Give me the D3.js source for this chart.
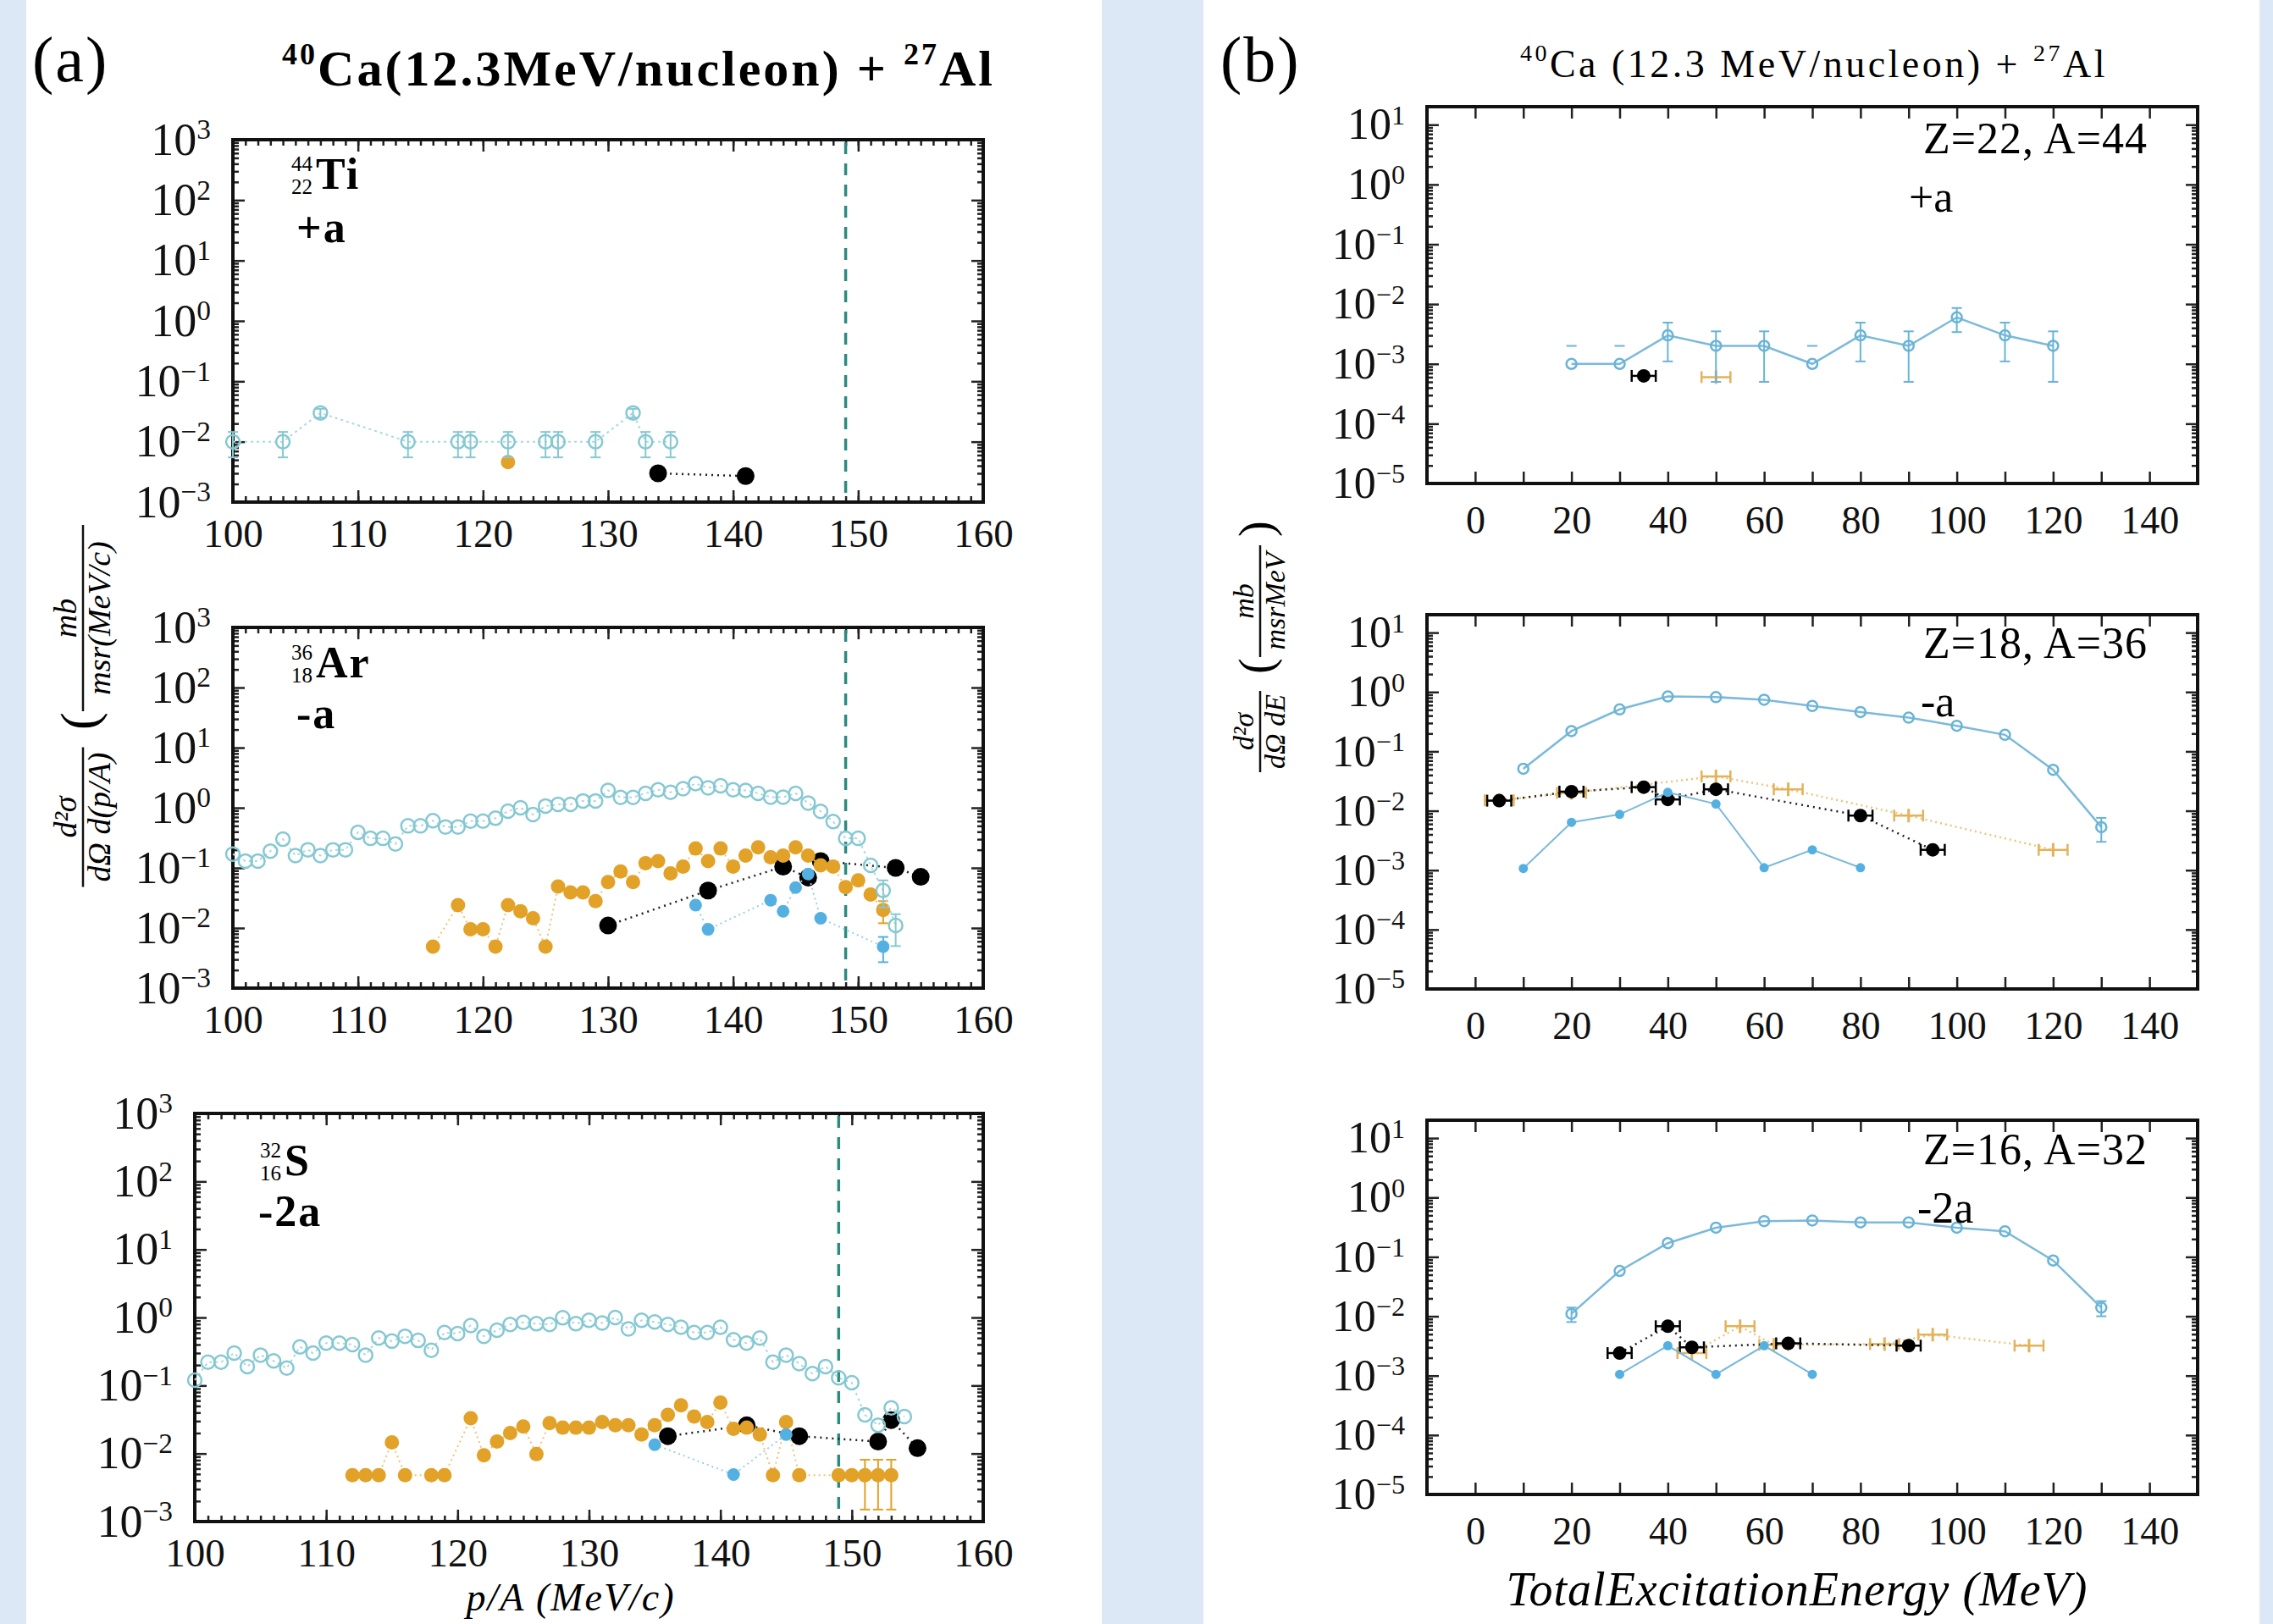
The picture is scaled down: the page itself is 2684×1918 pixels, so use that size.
<!DOCTYPE html>
<html lang="en">
<head>
<meta charset="UTF-8">
<title>40Ca + 27Al fragment spectra</title>
<script src="https://d3js.org/d3.v7.min.js"></script>
<style>
  body { margin: 0; background: #dce8f5; }
  text { font-family: "Liberation Serif", "DejaVu Serif", serif; }
</style>
</head>
<body>
<svg width="2684" height="1918"></svg>
<script>
// ---------- (a) p/A spectra : [p/A, value, yerr] ----------
const tiModel = [[100,0.01,0.0045],[104,0.01,0.0045],[107,0.03,0.005],[114,0.01,0.0045],[118,0.01,0.0045],
  [119,0.01,0.0045],[122,0.01,0.0045],[125,0.01,0.0045],[126,0.01,0.0045],[129,0.01,0.0045],
  [132,0.03,0.005],[133,0.01,0.0045],[135,0.01,0.0045]];
const tiOrange = [[122,0.0046]];
const tiBlue = [];
const tiBlack = [[134,0.003],[141,0.0027]];

const arModel = [[100,0.17],[101,0.13],[102,0.13],[103,0.19],[104,0.30],[105,0.16],[106,0.20],[107,0.16],
  [108,0.20],[109,0.20],[110,0.39],[111,0.31],[112,0.31],[113,0.25],[114,0.50],[115,0.50],[116,0.61],
  [117,0.48],[118,0.48],[119,0.60],[120,0.60],[121,0.67],[122,0.88],[123,1.0],[124,0.77],[125,1.07],
  [126,1.14],[127,1.14],[128,1.3],[129,1.3],[130,1.94],[131,1.49],[132,1.49],[133,1.74],[134,1.99],
  [135,1.81],[136,2.07],[137,2.52],[138,2.15],[139,2.33],[140,1.99],[141,1.94],[142,1.74],[143,1.5],
  [144,1.5],[145,1.74],[146,1.2],[147,0.87],[148,0.59],[149,0.31],[150,0.31],[151,0.11],
  [152,0.042,0.02],[153,0.011,0.006]];
const arOrange = [[116,0.0049],[118,0.024],[119,0.0095],[120,0.0095],[121,0.0049],[122,0.024],[123,0.019],
  [124,0.0145],[125,0.0049],[126,0.049],[127,0.039],[128,0.039],[129,0.028],[130,0.058],[131,0.087],
  [132,0.058],[133,0.12],[134,0.13],[135,0.081],[136,0.105],[137,0.21],[138,0.13],[139,0.21],[140,0.105],
  [141,0.16],[142,0.22],[143,0.15],[144,0.16],[145,0.22],[146,0.16],[147,0.11],[148,0.105],[149,0.048],
  [150,0.062],[151,0.036],[152,0.02,0.008]];
const arBlue = [[137,0.024],[138,0.0095],[143,0.029],[144,0.019],[145,0.047],[146,0.079],[147,0.0145],[152,0.0049,0.0022]];
const arBlack = [[130,0.011],[138,0.042],[144,0.105],[146,0.069],[147,0.13],[153,0.1],[155,0.071]];

const sModel = [[100,0.12],[101,0.22],[102,0.22],[103,0.3],[104,0.19],[105,0.28],[106,0.23],[107,0.18],
  [108,0.37],[109,0.3],[110,0.42],[111,0.42],[112,0.4],[113,0.28],[114,0.5],[115,0.45],[116,0.53],
  [117,0.46],[118,0.33],[119,0.6],[120,0.58],[121,0.76],[122,0.53],[123,0.65],[124,0.79],[125,0.85],
  [126,0.81],[127,0.79],[128,0.99],[129,0.81],[130,0.91],[131,0.83],[132,1.0],[133,0.68],[134,0.91],
  [135,0.86],[136,0.79],[137,0.72],[138,0.6],[139,0.6],[140,0.72],[141,0.47],[142,0.42],[143,0.5],
  [144,0.22],[145,0.28],[146,0.21],[147,0.15],[148,0.19],[149,0.13],[150,0.11],[151,0.037],
  [152,0.026],[153,0.047],[154,0.035]];
const sOrange = [[112,0.0048],[113,0.0048],[114,0.0048],[115,0.0146],[116,0.0048],[118,0.0048],[119,0.0048],
  [121,0.033],[122,0.0094],[123,0.015],[124,0.02],[125,0.025],[126,0.0098],[127,0.028],[128,0.024],
  [129,0.024],[130,0.024],[131,0.029],[132,0.026],[133,0.026],[134,0.019],[135,0.026],[136,0.037],
  [137,0.051],[138,0.035],[139,0.029],[140,0.056],[141,0.023],[142,0.024],[143,0.019],[144,0.0048],
  [145,0.029],[146,0.0048],[149,0.0048],[150,0.0048],[151,0.0048,0.0033],[152,0.0048,0.0033],[153,0.0048,0.0033]];
const sBlue = [[135,0.0135],[141,0.0049],[145,0.019]];
const sBlack = [[136,0.018],[142,0.026],[146,0.018],[152,0.015],[153,0.031],[155,0.012]];

// ---------- (b) excitation-energy spectra ----------
// model: [E, value, yerr]   black / orange: [E, value, xerr]
const b1Model = [[20,0.001,0.001],[30,0.001,0.001],[40,0.003,0.0019],[50,0.002,0.0015],[60,0.002,0.0015],
  [70,0.001,0.001],[80,0.003,0.0019],[90,0.002,0.0015],[100,0.006,0.0026],[110,0.003,0.0019],[120,0.002,0.0015]];
const b1Blue = [];
const b1Black = [[35,0.00063,2.5]];
const b1Orange = [[50,0.0006,3]];

const b2Model = [[10,0.051],[20,0.22],[30,0.51],[40,0.84],[50,0.82],[60,0.74],[70,0.58],[80,0.46],
  [90,0.37],[100,0.27],[110,0.19],[120,0.049],[130,0.0053,0.0023]];
const b2Blue = [[10,0.00107],[20,0.0064],[30,0.0087],[40,0.0204],[50,0.013],[60,0.0011],[70,0.0022],[80,0.0011]];
const b2Black = [[5,0.0148,2.5],[20,0.021,2.5],[35,0.025,2.5],[40,0.0155,2.5],[50,0.023,2.5],[80,0.0083,2.5],[95,0.0022,2.5]];
const b2Orange = [[5,0.015,3],[20,0.02,3],[50,0.038,3],[65,0.023,3],[90,0.0083,3],[120,0.0022,3]];

const b3Model = [[20,0.011,0.003],[30,0.058],[40,0.17],[50,0.31],[60,0.4],[70,0.41],[80,0.38],[90,0.38],
  [100,0.31],[110,0.27],[120,0.087],[130,0.014,0.004]];
const b3Blue = [[30,0.00105],[40,0.0032],[50,0.00105],[60,0.0032],[70,0.00105]];
const b3Black = [[30,0.0024,2.5],[40,0.0068,2.5],[45,0.003,2.5],[65,0.0035,2.5],[90,0.0032,2.5]];
const b3Orange = [[45,0.0024,3],[55,0.0068,3],[62,0.0033,3],[85,0.0034,3],[95,0.0049,3],[115,0.0032,3]];

const pRange = [100, 160];
const pTicks = [100, 110, 120, 130, 140, 150, 160];
const eRange = [-10, 150];
const eTicks = [0, 20, 40, 60, 80, 100, 120, 140];
const cutPA = 149;

const svg = d3.select('svg');

// background panels
svg.append('rect').attr('width', 2684).attr('height', 1918).attr('fill', '#dce8f5');
svg.append('rect').attr('x', 31).attr('width', 1270).attr('height', 1918).attr('fill', '#fff');
svg.append('rect').attr('x', 1421).attr('width', 1247).attr('height', 1918).attr('fill', '#fff');

const C = {
  teal: '#86c8d2', orange: '#e2a127', blue: '#55b0e2', dash: '#2e8a7e',
  rOpen: '#68b4d8', rLine: '#7cb9da', rOrange: '#e3b25a'
};

function sup(sel, d) {
  const e = Math.round(Math.log10(d));
  sel.text('10').append('tspan').attr('dy', '-0.55em').attr('font-size', '0.62em')
    .text(e < 0 ? '\u2212' + (-e) : e);
}

function styleAxis(g, fs) {
  g.select('.domain').remove();
  g.selectAll('.tick line').attr('stroke', '#222').attr('stroke-width', 2.5);
  g.attr('font-size', fs).attr('font-family', null);
  g.selectAll('text').attr('fill', '#111');
}

function frame(g, x, y, box, xMinor, xMajor, xLabels, yDec, fsX, fsY, padX) {
  const [x0, x1, y0, y1] = box;
  const yMinor = [];
  yDec.slice(0, -1).forEach(d => d3.range(2, 10).forEach(m => yMinor.push(d * m)));
  // minor ticks
  g.append('g').attr('transform', `translate(0,${y1})`)
    .call(d3.axisBottom(x).tickValues(xMinor).tickSizeInner(-7).tickSizeOuter(0).tickFormat(''))
    .call(a => styleAxis(a, fsX));
  g.append('g').attr('transform', `translate(0,${y0})`)
    .call(d3.axisTop(x).tickValues(xMinor).tickSizeInner(-7).tickSizeOuter(0).tickFormat(''))
    .call(a => styleAxis(a, fsX));
  g.append('g').attr('transform', `translate(${x0},0)`)
    .call(d3.axisLeft(y).tickValues(yMinor).tickSizeInner(-7).tickSizeOuter(0).tickFormat(''))
    .call(a => styleAxis(a, fsY));
  g.append('g').attr('transform', `translate(${x1},0)`)
    .call(d3.axisRight(y).tickValues(yMinor).tickSizeInner(-7).tickSizeOuter(0).tickFormat(''))
    .call(a => styleAxis(a, fsY));
  // major ticks + labels
  g.append('g').attr('transform', `translate(0,${y1})`)
    .call(d3.axisBottom(x).tickValues(xMajor).tickSizeInner(-14).tickSizeOuter(0).tickPadding(padX)
      .tickFormat(d => xLabels.includes(d) ? d : ''))
    .call(a => styleAxis(a, fsX));
  g.append('g').attr('transform', `translate(0,${y0})`)
    .call(d3.axisTop(x).tickValues(xMajor).tickSizeInner(-14).tickSizeOuter(0).tickFormat(''))
    .call(a => styleAxis(a, fsX));
  g.append('g').attr('transform', `translate(${x0},0)`)
    .call(d3.axisLeft(y).tickValues(yDec).tickSizeInner(-14).tickSizeOuter(0).tickPadding(26))
    .call(a => styleAxis(a, fsY))
    .call(a => a.selectAll('.tick text').each(function(d) { sup(d3.select(this), d); }));
  g.append('g').attr('transform', `translate(${x1},0)`)
    .call(d3.axisRight(y).tickValues(yDec).tickSizeInner(-14).tickSizeOuter(0).tickFormat(''))
    .call(a => styleAxis(a, fsY));
  g.append('rect').attr('x', x0).attr('y', y0).attr('width', x1 - x0).attr('height', y1 - y0)
    .attr('fill', 'none').attr('stroke', '#111').attr('stroke-width', 4);
}

// s: {kind, color, r, line, lineColor, lw, dash, err: 'y'|'x'}
function series(g, data, x, y, s) {
  if (!data.length) return;
  if (s.line) {
    g.append('path').datum(data)
      .attr('d', d3.line().x(d => x(d[0])).y(d => y(d[1])))
      .attr('fill', 'none').attr('stroke', s.lineColor).attr('stroke-width', s.lw)
      .attr('stroke-dasharray', s.dash || null);
  }
  const withErr = data.filter(d => d.length > 2);
  const eg = g.append('g').attr('stroke', s.errColor || s.color).attr('stroke-width', s.ew || 2.5);
  withErr.forEach(d => {
    if (s.err === 'x') {
      const xa = x(d[0] - d[2]), xb = x(d[0] + d[2]), yy = y(d[1]);
      eg.append('line').attr('x1', xa).attr('x2', xb).attr('y1', yy).attr('y2', yy);
      [xa, xb].forEach(xx => eg.append('line').attr('x1', xx).attr('x2', xx).attr('y1', yy - 7).attr('y2', yy + 7));
    } else {
      const lo = d[1] - d[2], hi = d[1] + d[2], xx = x(d[0]);
      if (lo > 0) {
        eg.append('line').attr('x1', xx).attr('x2', xx).attr('y1', y(lo)).attr('y2', y(hi));
        eg.append('line').attr('x1', xx - 6).attr('x2', xx + 6).attr('y1', y(lo)).attr('y2', y(lo));
      }
      eg.append('line').attr('x1', xx - 6).attr('x2', xx + 6).attr('y1', y(hi)).attr('y2', y(hi));
    }
  });
  const mg = g.append('g');
  if (s.kind === 'cross') {
    mg.selectAll('path').data(data).join('path')
      .attr('d', d => `M${x(d[0])},${y(d[1]) - 8}V${y(d[1]) + 8}`)
      .attr('stroke', s.color).attr('stroke-width', 3);
  } else {
    mg.selectAll('circle').data(data).join('circle')
      .attr('cx', d => x(d[0])).attr('cy', d => y(d[1])).attr('r', s.r)
      .attr('fill', s.kind === 'open' ? 'none' : s.color)
      .attr('stroke', s.kind === 'open' ? s.color : 'none')
      .attr('stroke-width', s.kind === 'open' ? 2.5 : 0);
  }
}

function nuclide(g, n, xs, ys) {
  g.append('text').attr('x', xs).attr('y', ys).attr('font-size', 52).attr('font-weight', 'bold')
    .attr('letter-spacing', 2).text(n.sym);
  g.append('text').attr('x', xs - 4).attr('y', ys - 21).attr('font-size', 25).attr('text-anchor', 'end').text(n.A);
  g.append('text').attr('x', xs - 4).attr('y', ys + 6).attr('font-size', 25).attr('text-anchor', 'end').text(n.Z);
}

// ---------------- (a) panels ----------------
const panelsA = [
  { box: [275, 1161, 165, 593], model: tiModel, orange: tiOrange, blue: tiBlue, black: tiBlack,
    nuc: { sym: 'Ti', A: '44', Z: '22' }, sx: 373, sy: 223, tag: '+a', tx: 350, ty: 286 },
  { box: [275, 1161, 741, 1167], model: arModel, orange: arOrange, blue: arBlue, black: arBlack,
    nuc: { sym: 'Ar', A: '36', Z: '18' }, sx: 373, sy: 800, tag: '-a', tx: 350, ty: 860 },
  { box: [230, 1161, 1315, 1797], model: sModel, orange: sOrange, blue: sBlue, black: sBlack,
    nuc: { sym: 'S', A: '32', Z: '16' }, sx: 336, sy: 1388, tag: '-2a', tx: 305, ty: 1448 }
];
const aDec = [1e-3, 1e-2, 1e-1, 1, 10, 100, 1000];

panelsA.forEach(p => {
  const [x0, x1, y0, y1] = p.box;
  const x = d3.scaleLinear().domain(pRange).range([x0, x1]);
  const y = d3.scaleLog().domain([1e-3, 1e3]).range([y1, y0]);
  const g = svg.append('g');
  frame(g, x, y, p.box, d3.range(100, 161), pTicks, pTicks, aDec, 47, 54, 20);
  g.append('line').attr('x1', x(cutPA)).attr('x2', x(cutPA)).attr('y1', y0 + 3).attr('y2', y1 - 3)
    .attr('stroke', C.dash).attr('stroke-width', 3.5).attr('stroke-dasharray', '14,11');
  series(g, p.black, x, y, { kind: 'filled', color: '#000', r: 10.5, line: true, lineColor: '#222', lw: 2.5, dash: '2,5' });
  series(g, p.orange, x, y, { kind: 'filled', color: C.orange, r: 8.5, line: true, lineColor: '#eec27a', lw: 2, dash: '2,4', ew: 2 });
  series(g, p.blue, x, y, { kind: 'filled', color: C.blue, r: 7.5, line: true, lineColor: '#9bcfe9', lw: 2, dash: '2,4', ew: 2 });
  series(g, p.model, x, y, { kind: 'open', color: C.teal, r: 8, line: true, lineColor: '#a9d9df', lw: 2, dash: '3,4', ew: 2 });
  nuclide(g, p.nuc, p.sx, p.sy);
  g.append('text').attr('x', p.tx).attr('y', p.ty).attr('font-size', 52).attr('font-weight', 'bold')
    .attr('letter-spacing', 2).text(p.tag);
});

svg.append('text').attr('x', 38).attr('y', 96).attr('font-size', 76).attr('letter-spacing', 2).text('(a)');
const tA = svg.append('text').attr('x', 754).attr('y', 101).attr('font-size', 60).attr('font-weight', 'bold')
  .attr('letter-spacing', 3).attr('text-anchor', 'middle');
tA.append('tspan').attr('font-size', 36).attr('dy', -25).text('40');
tA.append('tspan').attr('dy', 25).text('Ca(12.3MeV/nucleon) + ');
tA.append('tspan').attr('font-size', 36).attr('dy', -25).text('27');
tA.append('tspan').attr('dy', 25).text('Al');

svg.append('text').attr('x', 674).attr('y', 1902).attr('font-size', 46).attr('font-style', 'italic')
  .attr('letter-spacing', 2).attr('text-anchor', 'middle').text('p/A (MeV/c)');

// ---------------- (b) panels ----------------
const panelsB = [
  { box: [1685, 2595, 126, 571], model: b1Model, blue: b1Blue, black: b1Black, orange: b1Orange,
    zlab: 'Z=22, A=44', zy: 181, tag: '+a', tx: 2254, ty: 250 },
  { box: [1685, 2595, 726, 1168], model: b2Model, blue: b2Blue, black: b2Black, orange: b2Orange,
    zlab: 'Z=18, A=36', zy: 777, tag: '-a', tx: 2268, ty: 846 },
  { box: [1685, 2595, 1323, 1765], model: b3Model, blue: b3Blue, black: b3Black, orange: b3Orange,
    zlab: 'Z=16, A=32', zy: 1375, tag: '-2a', tx: 2264, ty: 1444 }
];
const bDec = [1e-5, 1e-4, 1e-3, 1e-2, 1e-1, 1, 10];

panelsB.forEach(p => {
  const [x0, x1, y0, y1] = p.box;
  const x = d3.scaleLinear().domain(eRange).range([x0, x1]);
  const y = d3.scaleLog().domain([1e-5, 20]).range([y1, y0]);
  const g = svg.append('g');
  frame(g, x, y, p.box, [], d3.range(-10, 151, 10), eTicks, bDec, 46, 52, 26);
  series(g, p.orange, x, y, { kind: 'cross', color: C.rOrange, line: true, lineColor: '#ecc57c', lw: 2.5, dash: '2,4', err: 'x', ew: 2.5 });
  series(g, p.black, x, y, { kind: 'filled', color: '#000', r: 8, line: true, lineColor: '#222', lw: 2.5, dash: '2,5', err: 'x', ew: 2.5 });
  series(g, p.blue, x, y, { kind: 'filled', color: C.blue, r: 5.5, line: true, lineColor: C.rLine, lw: 2 });
  series(g, p.model, x, y, { kind: 'open', color: C.rOpen, r: 6, line: true, lineColor: C.rLine, lw: 2.5, ew: 2 });
  g.append('text').attr('x', 2536).attr('y', p.zy).attr('font-size', 52).attr('letter-spacing', 1)
    .attr('text-anchor', 'end').text(p.zlab);
  g.append('text').attr('x', p.tx).attr('y', p.ty).attr('font-size', 52).text(p.tag);
});

svg.append('text').attr('x', 1441).attr('y', 96).attr('font-size', 76).attr('letter-spacing', 2).text('(b)');
const tB = svg.append('text').attr('x', 2142).attr('y', 91).attr('font-size', 46).attr('letter-spacing', 3.5)
  .attr('text-anchor', 'middle');
tB.append('tspan').attr('font-size', 28).attr('dy', -19).text('40');
tB.append('tspan').attr('dy', 19).text('Ca (12.3 MeV/nucleon) + ');
tB.append('tspan').attr('font-size', 28).attr('dy', -19).text('27');
tB.append('tspan').attr('dy', 19).text('Al');

svg.append('text').attr('x', 2122).attr('y', 1896).attr('font-size', 56).attr('font-style', 'italic')
  .attr('letter-spacing', 1).attr('text-anchor', 'middle').text('TotalExcitationEnergy (MeV)');

// ---------------- rotated y labels ----------------
function frac(g, cx, num, den, w, fs) {
  g.append('line').attr('x1', cx - w / 2).attr('x2', cx + w / 2).attr('stroke', '#111').attr('stroke-width', 2.5);
  g.append('text').attr('x', cx).attr('y', -8).attr('text-anchor', 'middle').attr('font-style', 'italic')
    .attr('font-size', fs).text(num);
  g.append('text').attr('x', cx).attr('y', fs * 0.85).attr('text-anchor', 'middle').attr('font-style', 'italic')
    .attr('font-size', fs).text(den);
}

const yl = svg.append('g').attr('transform', 'translate(98,1050) rotate(-90)');
frac(yl, 85, 'd\u00b2\u03c3', 'd\u03a9 d(p/A)', 165, 38);
yl.append('text').attr('x', 188).attr('y', 16).attr('font-size', 62).text('(');
frac(yl, 320, 'mb', 'msr(MeV/c)', 220, 38);

const yr = svg.append('g').attr('transform', 'translate(1488,916) rotate(-90)');
frac(yr, 52, 'd\u00b2\u03c3', 'd\u03a9 dE', 96, 34);
yr.append('text').attr('x', 120).attr('y', 14).attr('font-size', 56).text('(');
frac(yr, 206, 'mb', 'msrMeV', 132, 34);
yr.append('text').attr('x', 282).attr('y', 14).attr('font-size', 56).text(')');
</script>
</body>
</html>
